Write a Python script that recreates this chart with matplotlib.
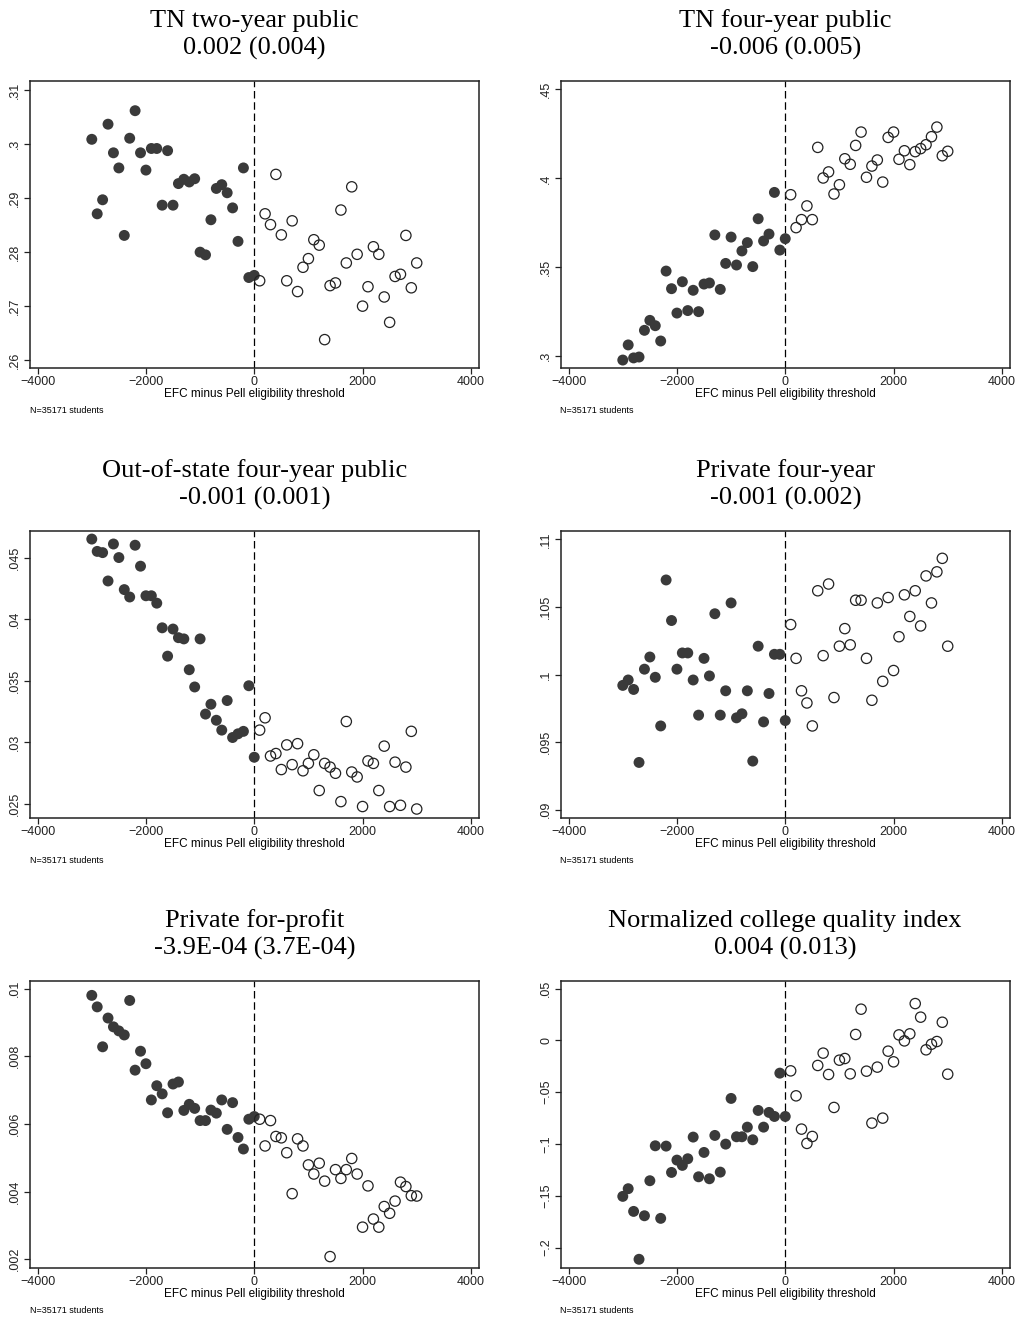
import matplotlib
matplotlib.use("Agg")
import matplotlib.pyplot as plt
from matplotlib.ticker import FuncFormatter

# EFC bins (below / above the Pell threshold)
efc_below = [-3000, -2900, -2800, -2700, -2600, -2500, -2400, -2300, -2200, -2100,
             -2000, -1900, -1800, -1700, -1600, -1500, -1400, -1300, -1200, -1100,
             -1000, -900, -800, -700, -600, -500, -400, -300, -200, -100, 0]
efc_above = [100, 200, 300, 400, 500, 600, 700, 800, 900, 1000,
             1100, 1200, 1300, 1400, 1500, 1600, 1700, 1800, 1900, 2000,
             2100, 2200, 2300, 2400, 2500, 2600, 2700, 2800, 2900, 3000]

# TN two-year public
tn2_below = [0.3009, 0.2871, 0.2897, 0.3037, 0.2984, 0.2956, 0.2831, 0.3011, 0.3062, 0.2984,
             0.2952, 0.2992, 0.2992, 0.2887, 0.2988, 0.2887, 0.2927, 0.2935, 0.2930, 0.2936,
             0.2800, 0.2795, 0.2860, 0.2918, 0.2925, 0.2910, 0.2882, 0.2820, 0.2956, 0.2753, 0.2757]
tn2_above = [0.2747, 0.2871, 0.2851, 0.2944, 0.2832, 0.2747, 0.2858, 0.2727, 0.2772, 0.2788,
             0.2823, 0.2813, 0.2638, 0.2738, 0.2743, 0.2878, 0.2780, 0.2921, 0.2796, 0.2700,
             0.2736, 0.2810, 0.2796, 0.2717, 0.2670, 0.2755, 0.2759, 0.2831, 0.2734, 0.2780]

# TN four-year public
tn4_below = [0.2979, 0.3064, 0.2991, 0.2996, 0.3146, 0.3202, 0.3172, 0.3086, 0.3479, 0.3380,
             0.3243, 0.3419, 0.3257, 0.3371, 0.3251, 0.3406, 0.3412, 0.3682, 0.3376, 0.3522,
             0.3670, 0.3513, 0.3592, 0.3639, 0.3504, 0.3773, 0.3648, 0.3687, 0.3921, 0.3597, 0.3661]
tn4_above = [0.3908, 0.3723, 0.3768, 0.3845, 0.3768, 0.4174, 0.4002, 0.4036, 0.3912, 0.3964,
             0.4110, 0.4079, 0.4185, 0.4260, 0.4006, 0.4069, 0.4103, 0.3979, 0.4230, 0.4260,
             0.4107, 0.4155, 0.4077, 0.4150, 0.4167, 0.4189, 0.4234, 0.4288, 0.4127, 0.4152]

# Out-of-state four-year public
oos_below = [0.0465, 0.0455, 0.0454, 0.0431, 0.0461, 0.0450, 0.0424, 0.0418, 0.0460, 0.0443,
             0.0419, 0.0419, 0.0413, 0.0393, 0.0370, 0.0392, 0.0385, 0.0384, 0.0359, 0.0345,
             0.0384, 0.0323, 0.0331, 0.0318, 0.0310, 0.0334, 0.0304, 0.0307, 0.0309, 0.0346, 0.0288]
oos_above = [0.0310, 0.0320, 0.0289, 0.0291, 0.0278, 0.0298, 0.0282, 0.0299, 0.0277, 0.0283,
             0.0290, 0.0261, 0.0283, 0.0280, 0.0275, 0.0252, 0.0317, 0.0276, 0.0272, 0.0248,
             0.0285, 0.0283, 0.0261, 0.0297, 0.0248, 0.0284, 0.0249, 0.0280, 0.0309, 0.0246]

# Private four-year
priv_below = [0.0992, 0.0996, 0.0989, 0.0935, 0.1004, 0.1013, 0.0998, 0.0962, 0.1070, 0.1040,
              0.1004, 0.1016, 0.1016, 0.0996, 0.0970, 0.1012, 0.0999, 0.1045, 0.0970, 0.0988,
              0.1053, 0.0968, 0.0971, 0.0988, 0.0936, 0.1021, 0.0965, 0.0986, 0.1015, 0.1015, 0.0966]
priv_above = [0.1037, 0.1012, 0.0988, 0.0979, 0.0962, 0.1062, 0.1014, 0.1067, 0.0983, 0.1021,
              0.1034, 0.1022, 0.1055, 0.1055, 0.1012, 0.0981, 0.1053, 0.0995, 0.1057, 0.1003,
              0.1028, 0.1059, 0.1043, 0.1062, 0.1036, 0.1073, 0.1053, 0.1076, 0.1086, 0.1021]

# Private for-profit
fp_below = [0.00980, 0.00946, 0.00828, 0.00913, 0.00887, 0.00875, 0.00863, 0.00965, 0.00759, 0.00815,
            0.00778, 0.00671, 0.00713, 0.00689, 0.00633, 0.00718, 0.00724, 0.00640, 0.00658, 0.00646,
            0.00610, 0.00610, 0.00641, 0.00632, 0.00671, 0.00584, 0.00663, 0.00560, 0.00526, 0.00614, 0.00622]
fp_above = [0.00614, 0.00535, 0.00610, 0.00563, 0.00559, 0.00515, 0.00394, 0.00556, 0.00535, 0.00479,
            0.00452, 0.00484, 0.00431, 0.00208, 0.00465, 0.00439, 0.00465, 0.00498, 0.00452, 0.00295,
            0.00417, 0.00319, 0.00295, 0.00356, 0.00336, 0.00372, 0.00428, 0.00415, 0.00388, 0.00387]

# Normalized college quality index
qual_below = [-0.1505, -0.1431, -0.1650, -0.2112, -0.1692, -0.1354, -0.1017, -0.1717, -0.1020, -0.1274,
              -0.1155, -0.1206, -0.1142, -0.0933, -0.1316, -0.1081, -0.1335, -0.0917, -0.1271, -0.1001,
              -0.0560, -0.0930, -0.0930, -0.0837, -0.0959, -0.0676, -0.0837, -0.0695, -0.0734, -0.0316, -0.0734]
qual_above = [-0.0294, -0.0535, -0.0856, -0.0994, -0.0927, -0.0242, -0.0123, -0.0329, -0.0647, -0.0191,
              -0.0175, -0.0323, 0.0057, 0.0301, -0.0297, -0.0798, -0.0258, -0.0750, -0.0104, -0.0207,
              0.0053, -0.0005, 0.0063, 0.0355, 0.0224, -0.0091, -0.0037, -0.0011, 0.0175, -0.0326]

titles = ["TN two-year public\n0.002 (0.004)",
          "TN four-year public\n-0.006 (0.005)",
          "Out-of-state four-year public\n-0.001 (0.001)",
          "Private four-year\n-0.001 (0.002)",
          "Private for-profit\n-3.9E-04 (3.7E-04)",
          "Normalized college quality index\n0.004 (0.013)"]

y_ticks = [[0.26, 0.27, 0.28, 0.29, 0.30, 0.31],
           [0.30, 0.35, 0.40, 0.45],
           [0.025, 0.030, 0.035, 0.040, 0.045],
           [0.090, 0.095, 0.100, 0.105, 0.110],
           [0.002, 0.004, 0.006, 0.008, 0.010],
           [-0.20, -0.15, -0.10, -0.05, 0.0, 0.05]]

y_lims = [(0.2586, 0.3117), (0.2936, 0.4547), (0.02387, 0.04713),
          (0.08939, 0.1106), (0.001743, 0.010216), (-0.2196, 0.0570)]

series = [(tn2_below, tn2_above), (tn4_below, tn4_above), (oos_below, oos_above),
          (priv_below, priv_above), (fp_below, fp_above), (qual_below, qual_above)]

plt.rcParams['font.family'] = ['Liberation Sans', 'DejaVu Sans']


def stata_fmt(v, pos):
    # Stata style: drop the leading zero (.05, -.1)
    s = "%g" % round(v, 6)
    if s.startswith("0.") and len(s) > 2:
        s = s[1:]
    elif s.startswith("-0."):
        s = "-" + s[2:]
    return s.replace("-", "\u2212")


fig = plt.figure(figsize=(10.21, 13.19), dpi=100)

col_left = [29.5 / 1021, 560.5 / 1021]
row_bottom = [1 - 367.7 / 1319, 1 - 818 / 1319, 1 - 1268 / 1319]
ax_w = 449.5 / 1021
ax_h = 286.7 / 1319

for i in range(6):
    r, c = divmod(i, 2)
    ax = fig.add_axes([col_left[c], row_bottom[r], ax_w, ax_h])
    below, above = series[i]

    ax.axvline(0, color='black', lw=0.9, ls=(0, (6, 3)), zorder=1)
    ax.scatter(efc_below, below, s=62, color='#3a3a3a', edgecolors='none', zorder=3)
    ax.scatter(efc_above, above, s=55, facecolors='none', edgecolors='#222222',
               linewidths=0.9, zorder=3)

    ax.set_xlim(-4150, 4150)
    ax.set_ylim(*y_lims[i])
    ax.set_xticks([-4000, -2000, 0, 2000, 4000])
    ax.set_yticks(y_ticks[i])
    ax.yaxis.set_major_formatter(FuncFormatter(stata_fmt))
    for lab in ax.get_yticklabels():
        lab.set_rotation(90)
        lab.set_va('center')
    ax.tick_params(axis='both', labelsize=9, length=4, width=0.9, pad=2, colors='#222222')
    for sp in ax.spines.values():
        sp.set_linewidth(1.1)
        sp.set_color('#222222')

    ax.set_xlabel("EFC minus Pell eligibility threshold", fontsize=8.5, labelpad=0)
    ax.set_title(titles[i], fontsize=19, family='Liberation Serif', linespacing=1.3, pad=19)
    ax.text(0.0, -0.148, "N=35171 students", transform=ax.transAxes, fontsize=6.5,
            ha='left', va='center')

fig.savefig("out.png", dpi=100)
